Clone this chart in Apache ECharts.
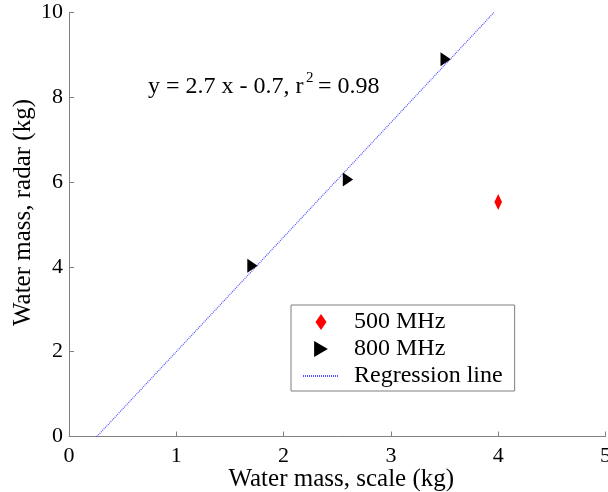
<!DOCTYPE html>
<html>
<head>
<meta charset="utf-8">
<script src="https://cdn.jsdelivr.net/npm/echarts@6/dist/echarts.min.js"></script>
<style>
html,body{margin:0;padding:0;background:#fff;}
#c{width:608px;height:492px;}
</style>
</head>
<body>
<div id="c"></div>
<script>
// Data
var series500Name = '500 MHz';
var series500 = [[4.0, 5.53]];
var series800Name = '800 MHz';
var series800 = [[1.71, 4.03], [2.6, 6.06], [3.51, 8.9]];
var regressionName = 'Regression line';
var regressionLine = [[0.26, 0], [3.96, 10]];
var xTicks = [0, 1, 2, 3, 4, 5];
var yTicks = [0, 2, 4, 6, 8, 10];
var xTitle = 'Water mass, scale (kg)';
var yTitle = 'Water mass, radar (kg)';
var eqMain = 'y = 2.7 x - 0.7, r';
var eqSup = '2';
var eqEnd = '= 0.98';

var FONT = '"Liberation Serif", "Times New Roman", serif';
var DIAMOND = 'path://M0,8 L5.5,0 L11,8 L5.5,16 Z';
var TRIANGLE = 'path://M0,0 L12,7 L0,14 Z';
var chart = echarts.init(document.getElementById('c'), null, {renderer: 'canvas'});
var axisCommon = {
  axisLine: {show: true, lineStyle: {color: '#808080', width: 1}},
  axisTick: {show: true, inside: true, length: 5, lineStyle: {color: '#808080'}},
  splitLine: {show: false},
  axisLabel: {color: '#000', fontFamily: FONT, fontSize: 22},
  nameLocation: 'middle',
  nameMoveOverlap: false
};
chart.setOption({
  animation: false,
  backgroundColor: '#fff',
  grid: {left: 69, right: 2.5, top: 12.5, bottom: 55.5, containLabel: false, outerBoundsMode: 'none'},
  xAxis: Object.assign({}, axisCommon, {
    type: 'value', min: xTicks[0], max: xTicks[xTicks.length - 1], interval: 1,
    name: xTitle, nameGap: 30,
    nameTextStyle: {color: '#000', fontFamily: FONT, fontSize: 25, padding: [0, 0, 0, 8]},
    axisLabel: Object.assign({}, axisCommon.axisLabel, {margin: 9})
  }),
  yAxis: Object.assign({}, axisCommon, {
    type: 'value', min: yTicks[0], max: yTicks[yTicks.length - 1], interval: 2,
    name: yTitle, nameGap: 33,
    nameTextStyle: {color: '#000', fontFamily: FONT, fontSize: 25, padding: [0, 0, 0, 24]},
    axisLabel: Object.assign({}, axisCommon.axisLabel, {margin: 6})
  }),
  legend: {
    orient: 'vertical',
    left: 291, top: 305,
    padding: [5, 12, 3, 11],
    itemGap: 3,
    itemWidth: 36, itemHeight: 16,
    borderColor: '#808080', borderWidth: 1,
    backgroundColor: '#fff',
    textStyle: {color: '#000', fontFamily: FONT, fontSize: 24, lineHeight: 24, padding: [0, 0, 0, 10]},
    data: [
      {name: series500Name, icon: DIAMOND},
      {name: series800Name, icon: TRIANGLE},
      {name: regressionName, itemStyle: {opacity: 0}}
    ]
  },
  series: [
    {
      name: regressionName, type: 'line', data: regressionLine,
      symbol: 'none', z: 1,
      lineStyle: {color: '#5050ff', width: 1.2, type: [1, 1]},
      itemStyle: {color: '#5050ff'}
    },
    {
      name: series500Name, type: 'scatter', data: series500,
      symbol: DIAMOND, symbolSize: [11, 16], symbolKeepAspect: true, z: 3,
      itemStyle: {color: '#ff0000', opacity: 1}
    },
    {
      name: series800Name, type: 'scatter', data: series800,
      symbol: TRIANGLE, symbolSize: [12, 14], symbolKeepAspect: true, z: 3,
      itemStyle: {color: '#000', opacity: 1}
    }
  ],
  graphic: [
    {type: 'text', left: 148, top: 75, z: 10, style: {text: eqMain, fill: '#000', font: '24px ' + FONT}},
    {type: 'text', left: 306, top: 71, z: 10, style: {text: eqSup, fill: '#000', font: '15px ' + FONT}},
    {type: 'text', left: 318, top: 75, z: 10, style: {text: eqEnd, fill: '#000', font: '24px ' + FONT}}
  ]
});
</script>
</body>
</html>
